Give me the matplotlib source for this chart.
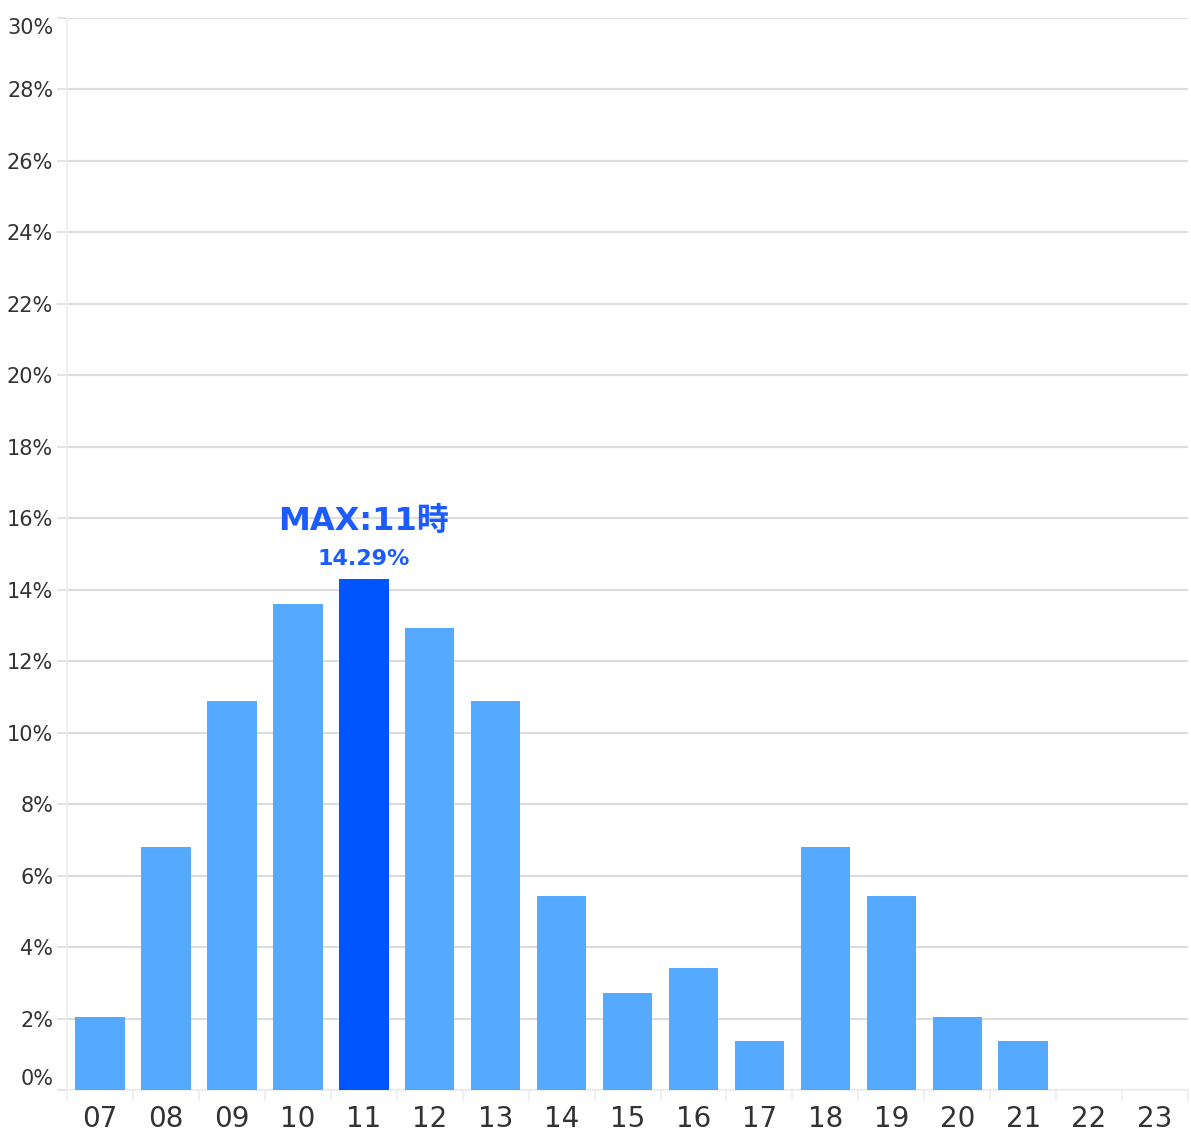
import matplotlib.pyplot as plt
import matplotlib.transforms as mtransforms
import numpy as np

# hourly share of visits (%)
hours = ['07', '08', '09', '10', '11', '12', '13', '14', '15', '16',
         '17', '18', '19', '20', '21', '22', '23']
share = [2.04, 6.80, 10.88, 13.61, 14.29, 12.93, 10.88, 5.44, 2.72, 3.40,
         1.36, 6.80, 5.44, 2.04, 1.36, 0.0, 0.0]
y_ticks = list(range(0, 31, 2))

light_blue = '#55aaff'
max_blue = '#0055ff'
grid_col = '#dddddd'
text_col = '#333333'

plt.rcParams['font.family'] = ['DejaVu Sans', 'Noto Sans CJK JP']

fig = plt.figure(figsize=(11.91, 11.38), dpi=100)
ax = fig.add_axes([0.0563, 0.0422, 0.9412, 0.942])

x = np.arange(len(hours))
imax = int(np.argmax(share))
colors = [max_blue if i == imax else light_blue for i in range(len(hours))]
ax.bar(x, share, width=0.75, color=colors, zorder=3)

ax.set_xlim(-0.5, len(hours) - 0.5)
ax.set_ylim(0, 30)

# y axis
ax.set_yticks(y_ticks)
ax.set_yticklabels([f'{v}%' for v in y_ticks])
ax.yaxis.grid(True, color=grid_col, linewidth=1.6, zorder=0)
ax.tick_params(axis='y', length=7, width=1.2, color=grid_col, pad=3,
               labelsize=15, labelcolor=text_col)
# keep first and last labels inside the figure
labels = ax.get_yticklabels()
labels[0].set_transform(labels[0].get_transform() +
                        mtransforms.ScaledTranslation(0, 13 / 100, fig.dpi_scale_trans))
labels[-1].set_transform(labels[-1].get_transform() +
                         mtransforms.ScaledTranslation(0, -8 / 100, fig.dpi_scale_trans))

# x axis
ax.set_xticks(x)
ax.set_xticklabels(hours)
ax.set_xticks(np.arange(-0.5, len(hours), 1), minor=True)
ax.tick_params(axis='x', which='major', length=0, pad=11,
               labelsize=20, labelcolor=text_col)
ax.tick_params(axis='x', which='minor', length=8, width=1.2, color='#eeeeee')

for side in ['top', 'right']:
    ax.spines[side].set_visible(False)
for side in ['left', 'bottom']:
    ax.spines[side].set_color('#eeeeee')
    ax.spines[side].set_linewidth(1.2)

# max annotation
ax.text(x[imax], share[imax] + 1.2, f'MAX:{hours[imax]}時', ha='center', va='bottom',
        fontsize=23, fontweight='bold', color='#1a5cff', zorder=4)
ax.text(x[imax], share[imax] + 0.3, f'{share[imax]:.2f}%', ha='center', va='bottom',
        fontsize=16, fontweight='bold', color='#1a5cff', zorder=4)

fig.savefig('out.png', dpi=100)
